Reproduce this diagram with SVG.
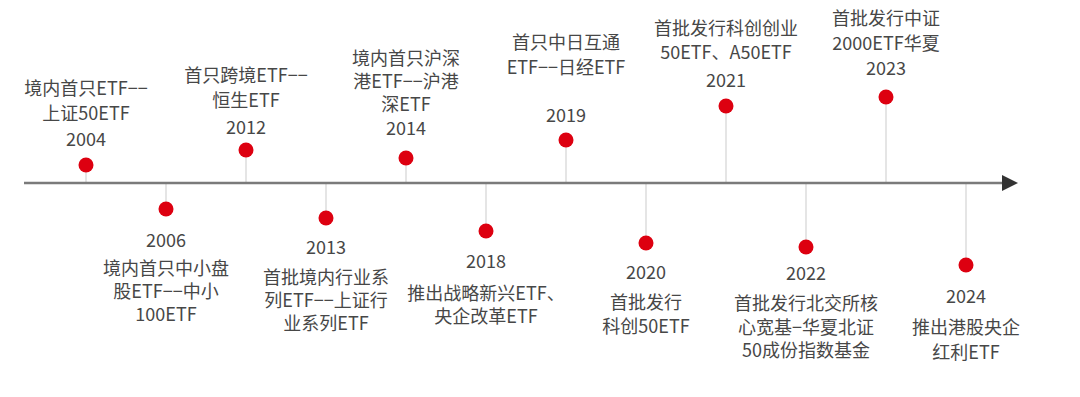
<svg xmlns="http://www.w3.org/2000/svg" width="1080" height="397" viewBox="0 0 1080 397">
<defs>
<marker id="arr" viewBox="0 0 16 16" refX="2" refY="8" markerWidth="16" markerHeight="16" markerUnits="userSpaceOnUse" orient="auto">
<path d="M0,0 L16,8 L0,16 Z" fill="#333333"/>
</marker>
</defs>
<style>
.t{font-family:"Noto Sans CJK SC","Noto Sans",sans-serif;font-size:18px;fill:#474747;text-anchor:middle}
.stem{stroke:#d4d4d4;stroke-width:1.2}
.dot{fill:#dd0010}
.axis{stroke:#7a7a7a;stroke-width:2.5;fill:none}
</style>
<rect width="1080" height="397" fill="#ffffff"/>
<g id="connectors">
<line class="stem" x1="86" y1="165" x2="86" y2="183"/>
<line class="stem" x1="166" y1="183" x2="166" y2="209"/>
<line class="stem" x1="246" y1="150" x2="246" y2="183"/>
<line class="stem" x1="326" y1="183" x2="326" y2="218"/>
<line class="stem" x1="406" y1="158" x2="406" y2="183"/>
<line class="stem" x1="486" y1="183" x2="486" y2="231"/>
<line class="stem" x1="566" y1="140" x2="566" y2="183"/>
<line class="stem" x1="646" y1="183" x2="646" y2="243"/>
<line class="stem" x1="726" y1="106" x2="726" y2="183"/>
<line class="stem" x1="806" y1="183" x2="806" y2="247"/>
<line class="stem" x1="886" y1="97" x2="886" y2="183"/>
<line class="stem" x1="966" y1="183" x2="966" y2="265"/>
<line id="axis" class="axis" x1="24" y1="183" x2="1004" y2="183" marker-end="url(#arr)"/>
</g>
<g id="n2004">
<circle class="dot" cx="86" cy="165" r="7.5"/>
<text class="t" x="86" y="95">境内首只ETF−−</text>
<text class="t" x="86" y="120">上证50ETF</text>
<text class="t" x="86" y="146">2004</text>
</g>
<g id="n2006">
<circle class="dot" cx="166" cy="209" r="7.5"/>
<text class="t" x="166" y="247">2006</text>
<text class="t" x="166" y="275">境内首只中小盘</text>
<text class="t" x="166" y="298">股ETF−−中小</text>
<text class="t" x="166" y="321">100ETF</text>
</g>
<g id="n2012">
<circle class="dot" cx="246" cy="150" r="7.5"/>
<text class="t" x="246" y="82">首只跨境ETF−−</text>
<text class="t" x="246" y="107">恒生ETF</text>
<text class="t" x="246" y="134">2012</text>
</g>
<g id="n2013">
<circle class="dot" cx="326" cy="218" r="7.5"/>
<text class="t" x="326" y="254">2013</text>
<text class="t" x="326" y="284">首批境内行业系</text>
<text class="t" x="326" y="307">列ETF−−上证行</text>
<text class="t" x="326" y="330">业系列ETF</text>
</g>
<g id="n2014">
<circle class="dot" cx="406" cy="158" r="7.5"/>
<text class="t" x="406" y="65">境内首只沪深</text>
<text class="t" x="406" y="88">港ETF−−沪港</text>
<text class="t" x="406" y="111">深ETF</text>
<text class="t" x="406" y="135">2014</text>
</g>
<g id="n2018">
<circle class="dot" cx="486" cy="231" r="7.5"/>
<text class="t" x="486" y="268">2018</text>
<text class="t" x="486" y="300">推出战略新兴ETF、</text>
<text class="t" x="486" y="323">央企改革ETF</text>
</g>
<g id="n2019">
<circle class="dot" cx="566" cy="140" r="7.5"/>
<text class="t" x="566" y="49">首只中日互通</text>
<text class="t" x="566" y="74">ETF−−日经ETF</text>
<text class="t" x="566" y="122">2019</text>
</g>
<g id="n2020">
<circle class="dot" cx="646" cy="243" r="7.5"/>
<text class="t" x="646" y="279">2020</text>
<text class="t" x="646" y="309">首批发行</text>
<text class="t" x="646" y="333">科创50ETF</text>
</g>
<g id="n2021">
<circle class="dot" cx="726" cy="106" r="7.5"/>
<text class="t" x="726" y="35">首批发行科创创业</text>
<text class="t" x="726" y="59">50ETF、A50ETF</text>
<text class="t" x="726" y="87">2021</text>
</g>
<g id="n2022">
<circle class="dot" cx="806" cy="247" r="7.5"/>
<text class="t" x="806" y="280">2022</text>
<text class="t" x="806" y="310">首批发行北交所核</text>
<text class="t" x="806" y="334">心宽基−华夏北证</text>
<text class="t" x="806" y="357">50成份指数基金</text>
</g>
<g id="n2023">
<circle class="dot" cx="886" cy="97" r="7.5"/>
<text class="t" x="886" y="25">首批发行中证</text>
<text class="t" x="886" y="50">2000ETF华夏</text>
<text class="t" x="886" y="75">2023</text>
</g>
<g id="n2024">
<circle class="dot" cx="966" cy="265" r="7.5"/>
<text class="t" x="966" y="303">2024</text>
<text class="t" x="966" y="334">推出港股央企</text>
<text class="t" x="966" y="359">红利ETF</text>
</g>
</svg>
